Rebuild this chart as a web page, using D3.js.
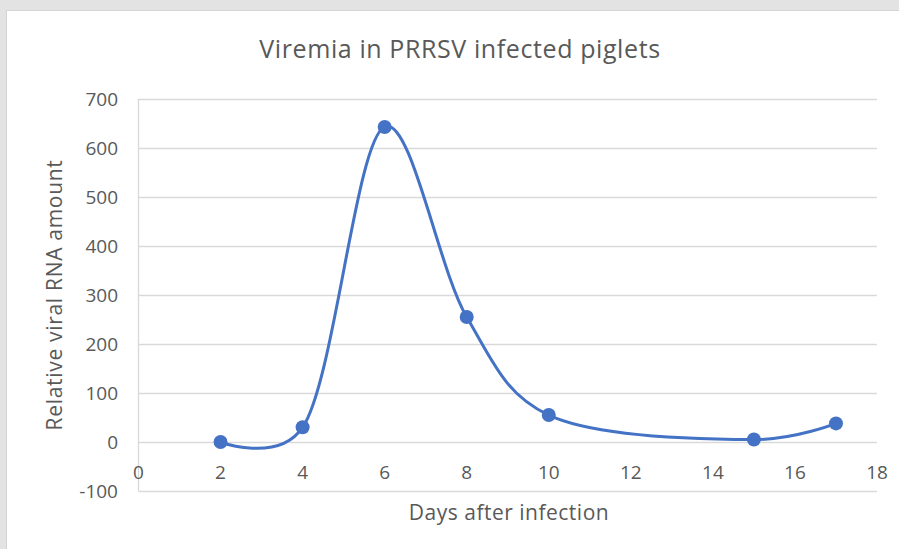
<!DOCTYPE html>
<html>
<head>
<meta charset="utf-8">
<script src="https://cdn.jsdelivr.net/npm/d3@7"></script>
<style>
  body { margin: 0; background: #e3e3e3; }
  svg { display: block; }
  text { font-family: "Open Sans", sans-serif; fill: #595959; }
</style>
</head>
<body>
<svg width="899" height="549"></svg>
<script>
// data
var days = [2, 4, 6, 8, 10, 15, 17];
var viralRNA = [0, 30, 643, 255, 55, 5, 38];
var xTicks = [0, 2, 4, 6, 8, 10, 12, 14, 16, 18];
var yTicks = [-100, 0, 100, 200, 300, 400, 500, 600, 700];

var svg = d3.select("svg");

// chart area (white) with faint border
svg.append("rect")
    .attr("x", 6.5).attr("y", 10.5)
    .attr("width", 900).attr("height", 545)
    .attr("fill", "#fff")
    .attr("stroke", "#d4d4d4");

var x = d3.scaleLinear().domain([0, 18]).range([138.5, 877]);
var y = d3.scaleLinear().domain([-100, 700]).range([491, 99]);

// gridlines
svg.append("g")
    .selectAll("line")
    .data(yTicks)
    .enter().append("line")
    .attr("x1", x(0)).attr("x2", x(18))
    .attr("y1", function(d) { return Math.round(y(d)) + 0.5; })
    .attr("y2", function(d) { return Math.round(y(d)) + 0.5; })
    .attr("stroke", "#d9d9d9")
    .attr("stroke-width", 1.3);

// vertical axis line
svg.append("line")
    .attr("x1", x(0)).attr("x2", x(0))
    .attr("y1", y(700)).attr("y2", y(-100))
    .attr("stroke", "#d9d9d9")
    .attr("stroke-width", 1.3);

// y tick labels
svg.append("g")
    .selectAll("text")
    .data(yTicks)
    .enter().append("text")
    .attr("x", 118)
    .attr("y", function(d) { return y(d); })
    .attr("dy", "0.35em")
    .attr("text-anchor", "end")
    .style("font-size", "19px")
    .text(function(d) { return d; });

// x tick labels
svg.append("g")
    .selectAll("text")
    .data(xTicks)
    .enter().append("text")
    .attr("x", function(d) { return x(d); })
    .attr("y", y(0) + 30)
    .attr("dy", "0.35em")
    .attr("text-anchor", "middle")
    .style("font-size", "19px")
    .text(function(d) { return d; });

// titles
svg.append("text")
    .attr("x", 460).attr("y", 58)
    .attr("text-anchor", "middle")
    .style("font-size", "25px")
    .style("letter-spacing", "0.6px")
    .text("Viremia in PRRSV infected piglets");

svg.append("text")
    .attr("x", 509).attr("y", 520)
    .attr("text-anchor", "middle")
    .style("font-size", "21px")
    .style("letter-spacing", "0.5px")
    .text("Days after infection");

svg.append("text")
    .attr("transform", "translate(62," + (y(300)) + ") rotate(-90)")
    .attr("text-anchor", "middle")
    .style("font-size", "21px")
    .style("letter-spacing", "0.7px")
    .text("Relative viral RNA amount");

// smoothed line
var pts = days.map(function(d, i) { return [d, viralRNA[i]]; });
var line = d3.line()
    .x(function(d) { return x(d[0]); })
    .y(function(d) { return y(d[1]); })
    .curve(d3.curveCatmullRom.alpha(0.2));

svg.append("path")
    .datum(pts)
    .attr("d", line)
    .attr("fill", "none")
    .attr("stroke", "#4472c4")
    .attr("stroke-width", 3);

svg.append("g")
    .selectAll("circle")
    .data(pts)
    .enter().append("circle")
    .attr("cx", function(d) { return x(d[0]); })
    .attr("cy", function(d) { return y(d[1]); })
    .attr("r", 7)
    .attr("fill", "#4472c4");
</script>
</body>
</html>
